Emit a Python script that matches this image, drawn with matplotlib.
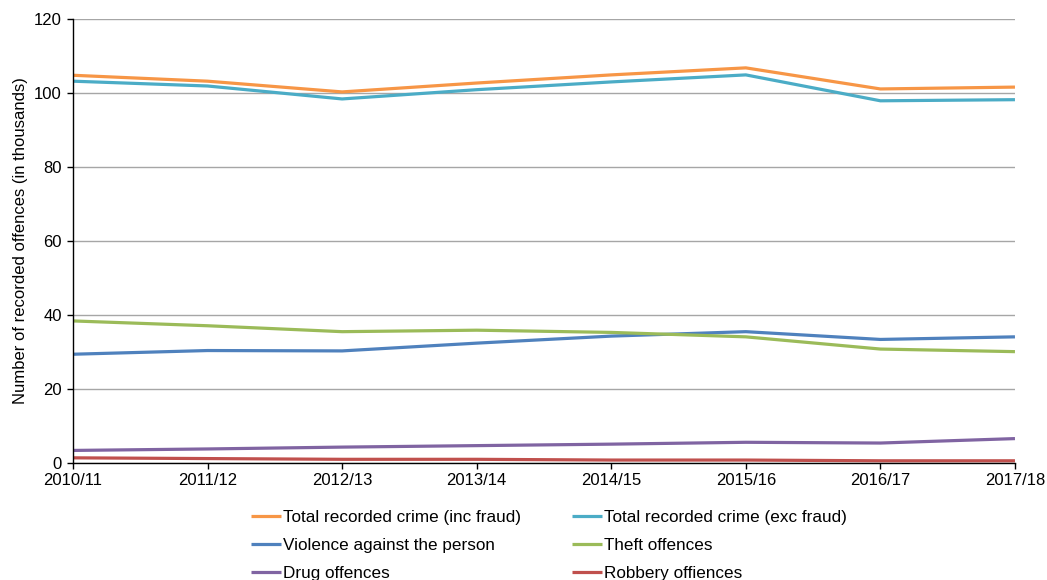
import matplotlib.pyplot as plt

plt.rcParams['font.family'] = ['Liberation Sans', 'DejaVu Sans']

years = ['2010/11', '2011/12', '2012/13', '2013/14', '2014/15', '2015/16', '2016/17', '2017/18']

total_inc_fraud = [104.8, 103.2, 100.3, 102.7, 104.9, 106.8, 101.1, 101.6]
total_exc_fraud = [103.2, 101.9, 98.4, 100.9, 103.0, 104.9, 97.9, 98.2]
violence = [29.4, 30.4, 30.3, 32.4, 34.3, 35.5, 33.4, 34.1]
theft = [38.4, 37.1, 35.5, 35.9, 35.3, 34.1, 30.8, 30.1]
drugs = [3.4, 3.8, 4.3, 4.7, 5.1, 5.6, 5.4, 6.6]
robbery = [1.4, 1.2, 1.0, 1.0, 0.8, 0.8, 0.6, 0.6]

series = [
    ('Total recorded crime (inc fraud)', total_inc_fraud, '#F79646'),
    ('Total recorded crime (exc fraud)', total_exc_fraud, '#4BACC6'),
    ('Violence against the person', violence, '#4F81BD'),
    ('Theft offences', theft, '#9BBB59'),
    ('Drug offences', drugs, '#8064A2'),
    ('Robbery offiences', robbery, '#C0504D'),
]

fig = plt.figure(figsize=(10.47, 5.8), dpi=100)
ax = fig.add_axes([0.0697, 0.2017, 0.8997, 0.7655])

x = list(range(len(years)))
handles = []
for label, vals, color in series:
    h, = ax.plot(x, vals, color=color, lw=2.3, label=label, solid_capstyle='butt')
    handles.append(h)

ax.set_xlim(0, len(years) - 1)
ax.set_ylim(0, 120)
ax.set_yticks(range(0, 121, 20))
ax.set_xticks(x)
ax.set_xticklabels(years)
ax.yaxis.grid(True, color='#A6A6A6', lw=1.0)
ax.set_axisbelow(True)
for side in ('top', 'right'):
    ax.spines[side].set_visible(False)
for side in ('left', 'bottom'):
    ax.spines[side].set_color('black')
    ax.spines[side].set_linewidth(1.0)
ax.tick_params(axis='both', labelsize=12, length=4, width=1, color='black')
ax.tick_params(axis='y', pad=4)
ax.tick_params(axis='x', pad=3)
ax.set_ylabel('Number of recorded offences (in thousands)', fontsize=12, labelpad=4)

# legend fills row by row: reorder so columns read left/right pairs
order = [0, 2, 4, 1, 3, 5]
fig.legend([handles[i] for i in order], [series[i][0] for i in order],
           loc='upper center', bbox_to_anchor=(0.524, 0.12), ncol=2, frameon=False,
           fontsize=12.3, handlelength=1.75, handletextpad=0.12, columnspacing=3.0,
           labelspacing=0.74, borderpad=0, borderaxespad=0)

fig.savefig('out.png', dpi=100)
